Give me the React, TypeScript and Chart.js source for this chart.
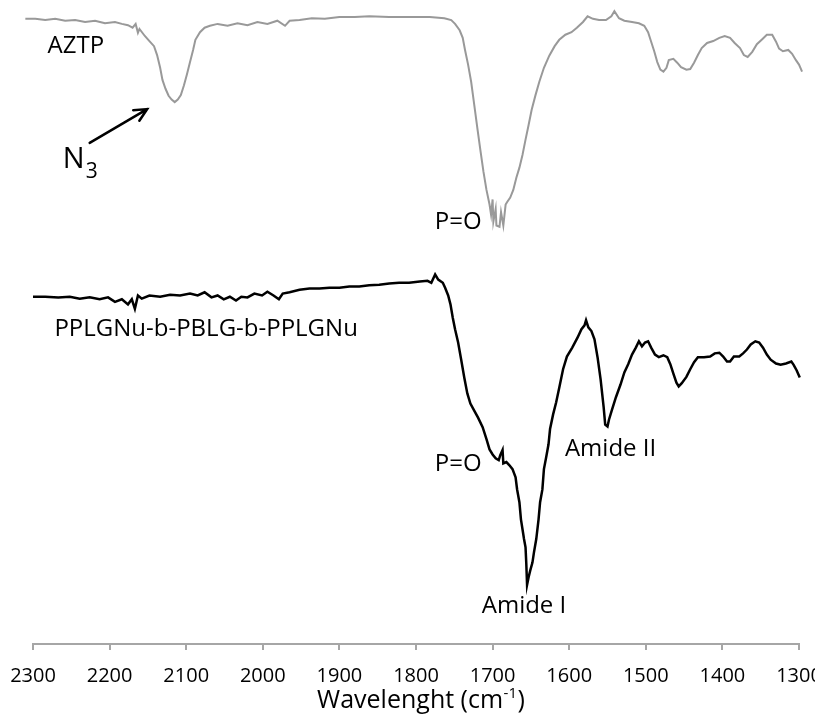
import React, { useEffect, useRef } from 'react';
import { Chart, registerables } from 'chart.js';

Chart.register(...registerables);

// AZTP spectrum (grey): wavenumber (cm-1) and signal (a.u., transmittance-like)
const AZTP_WAVENUMBER = [
  2310, 2297, 2284, 2271, 2258, 2245, 2232, 2219, 2206, 2193,
  2184, 2176, 2170, 2166, 2163, 2161, 2154, 2148, 2142, 2138,
  2134, 2131, 2127, 2123, 2119, 2115, 2111, 2107, 2103, 2099,
  2095, 2091, 2088, 2082, 2076, 2069, 2059, 2046, 2033, 2020,
  2007, 1994, 1981, 1971, 1965, 1952, 1936, 1919, 1900, 1880,
  1861, 1835, 1809, 1782, 1763, 1754, 1749, 1743, 1739, 1736,
  1732, 1728, 1724, 1720, 1716, 1712, 1708, 1704, 1702, 1700,
  1699, 1696, 1695, 1691, 1689, 1686, 1683, 1681, 1677, 1673,
  1669, 1665, 1661, 1657, 1653, 1649, 1644, 1639, 1633, 1626,
  1619, 1613, 1605, 1597, 1590, 1582, 1576, 1569, 1561, 1552,
  1545, 1541, 1535, 1528, 1518, 1509, 1502, 1497, 1493, 1489,
  1485, 1481, 1477, 1473, 1470, 1464, 1459, 1454, 1447, 1442,
  1437, 1432, 1427, 1420, 1412, 1404, 1397, 1390, 1384, 1377,
  1372, 1367, 1361, 1355, 1348, 1342, 1335, 1330, 1326, 1321,
  1314, 1309, 1304, 1300, 1296,
];
const AZTP_SIGNAL = [
  98.3, 98.3, 98.1, 98.3, 98.0, 98.1, 97.8, 98.0, 97.6, 97.8,
  97.5, 97.3, 96.9, 97.5, 96.1, 96.7, 95.6, 94.8, 94.0, 92.6,
  90.6, 88.7, 87.3, 86.2, 85.6, 85.2, 85.6, 86.3, 87.8, 89.6,
  91.5, 93.4, 95.0, 96.2, 96.9, 97.2, 97.5, 97.2, 97.6, 97.3,
  97.8, 97.5, 98.0, 97.2, 98.0, 98.1, 98.4, 98.3, 98.6, 98.6,
  98.7, 98.6, 98.6, 98.6, 98.4, 98.1, 97.5, 96.5, 95.3, 93.4,
  91.1, 88.4, 84.8, 81.2, 77.7, 74.3, 71.4, 69.1, 67.5, 69.9,
  66.4, 68.4, 65.8, 65.6, 67.9, 65.8, 69.1, 69.5, 70.2, 71.4,
  73.3, 74.9, 76.9, 79.3, 81.6, 84.0, 86.3, 88.4, 90.6, 92.5,
  94.0, 95.0, 95.8, 96.2, 96.9, 97.8, 98.7, 98.3, 98.1, 98.1,
  98.7, 99.5, 98.4, 98.0, 97.8, 97.6, 97.2, 96.2, 94.7, 93.2,
  91.5, 90.3, 90.0, 90.6, 91.8, 92.0, 91.4, 90.7, 90.3, 90.4,
  91.4, 92.6, 93.7, 94.5, 94.8, 95.3, 95.6, 95.3, 94.5, 93.7,
  92.6, 92.3, 93.1, 94.3, 95.1, 95.8, 95.8, 94.7, 93.6, 93.2,
  93.4, 92.8, 91.8, 91.1, 90.0,
];

// PPLGNu-b-PBLG-b-PPLGNu spectrum (black)
const COPOLYMER_WAVENUMBER = [
  2300, 2284, 2267, 2252, 2239, 2226, 2213, 2202, 2193, 2184,
  2176, 2171, 2167, 2163, 2158, 2148, 2134, 2121, 2108, 2095,
  2085, 2076, 2067, 2059, 2051, 2043, 2035, 2028, 2020, 2011,
  2001, 1994, 1986, 1979, 1974, 1965, 1952, 1939, 1926, 1913,
  1900, 1887, 1874, 1861, 1848, 1835, 1822, 1809, 1795, 1785,
  1780, 1775, 1771, 1765, 1762, 1758, 1755, 1752, 1749, 1745,
  1741, 1737, 1733, 1729, 1724, 1719, 1713, 1708, 1704, 1700,
  1696, 1692, 1690, 1687, 1686, 1682, 1678, 1674, 1670, 1668,
  1665, 1663, 1660, 1659, 1657, 1656, 1655, 1653, 1651, 1648,
  1646, 1643, 1640, 1638, 1635, 1633, 1630, 1627, 1625, 1621,
  1617, 1613, 1608, 1603, 1596, 1589, 1584, 1580, 1578, 1575,
  1571, 1567, 1563, 1559, 1555, 1553, 1550, 1548, 1544, 1539,
  1533, 1528, 1523, 1518, 1513, 1509, 1505, 1501, 1497, 1493,
  1488, 1483, 1477, 1472, 1468, 1464, 1460, 1457, 1453, 1447,
  1442, 1437, 1432, 1424, 1416, 1410, 1404, 1399, 1394, 1390,
  1385, 1378, 1373, 1368, 1363, 1357, 1352, 1347, 1342, 1337,
  1330, 1324, 1317, 1310, 1307, 1303, 1299,
];
const COPOLYMER_SIGNAL = [
  54.6, 54.6, 54.5, 54.6, 54.3, 54.5, 54.2, 54.5, 53.8, 54.2,
  53.4, 54.2, 52.7, 54.8, 54.3, 54.8, 54.6, 54.9, 54.8, 55.1,
  54.8, 55.3, 54.5, 54.8, 54.2, 54.6, 54.0, 54.6, 54.5, 55.1,
  54.8, 55.4, 54.8, 54.2, 55.1, 55.3, 55.7, 55.9, 55.9, 56.0,
  56.0, 56.2, 56.2, 56.4, 56.5, 56.7, 56.8, 56.8, 57.0, 57.1,
  56.8, 58.1, 57.3, 56.8, 56.0, 54.8, 53.4, 51.3, 49.5, 47.4,
  44.7, 41.9, 39.4, 37.8, 36.7, 35.6, 34.1, 32.2, 30.6, 29.8,
  29.2, 28.9, 29.7, 30.5, 28.4, 28.6, 28.1, 27.5, 26.2, 24.3,
  22.3, 19.6, 17.3, 16.5, 15.2, 12.6, 9.3, 10.5, 11.5, 12.8,
  14.4, 16.5, 19.6, 22.3, 24.3, 27.5, 29.4, 31.4, 33.8, 36.1,
  38.0, 40.3, 43.2, 45.2, 46.6, 48.2, 49.5, 50.1, 50.9, 49.8,
  49.2, 47.9, 45.1, 41.6, 37.2, 34.5, 34.2, 35.3, 36.9, 38.8,
  40.8, 42.7, 44.0, 45.5, 46.6, 47.6, 46.8, 47.4, 47.6, 46.6,
  45.5, 45.1, 45.4, 45.1, 44.0, 42.5, 41.1, 40.5, 41.0, 42.0,
  43.2, 44.3, 45.1, 45.1, 45.2, 45.7, 45.8, 45.2, 44.4, 44.4,
  45.2, 45.2, 45.7, 46.3, 47.1, 47.6, 47.4, 46.6, 45.5, 44.7,
  44.1, 43.9, 44.1, 44.4, 43.9, 43.0, 41.9,
];

const X_TICKS = [2300, 2200, 2100, 2000, 1900, 1800, 1700, 1600, 1500, 1400, 1300];
const X_TITLE_MAIN = 'Wavelenght (cm';
const X_TITLE_SUP = '-1';
const X_TITLE_END = ')';

// Peak labels: text, wavenumber (centre), signal (baseline)
const PEAK_LABEL_TEXT = ['AZTP', 'P=O', 'PPLGNu-b-PBLG-b-PPLGNu', 'P=O', 'Amide II', 'Amide I'];
const PEAK_LABEL_WN = [2244, 1745, 2074, 1745, 1546, 1659];
const PEAK_LABEL_SIGNAL = [92.9, 65.3, 48.5, 27.2, 29.5, 4.9];

// N3 label and arrow (data coordinates)
const N3_LABEL = { wn: 2261, signal: 74.9 };
const N3_ARROW = { fromWn: 2226, fromSignal: 78.8, toWn: 2151, toSignal: 84.1 };

const FONT = '"Open Sans", "Noto Sans", sans-serif';

const annotationPlugin = {
  id: 'peakAnnotations',
  afterDatasetsDraw(chart: any) {
    const { ctx } = chart;
    const xs = chart.scales.x;
    const ys = chart.scales.y;
    ctx.save();
    ctx.fillStyle = '#000';
    ctx.textBaseline = 'alphabetic';
    ctx.textAlign = 'center';
    ctx.font = `24px ${FONT}`;
    PEAK_LABEL_TEXT.forEach((t, i) => {
      ctx.fillText(t, xs.getPixelForValue(PEAK_LABEL_WN[i]), ys.getPixelForValue(PEAK_LABEL_SIGNAL[i]));
    });

    // N3
    const nx = xs.getPixelForValue(N3_LABEL.wn);
    const ny = ys.getPixelForValue(N3_LABEL.signal);
    ctx.textAlign = 'left';
    ctx.font = `29px ${FONT}`;
    ctx.fillText('N', nx, ny);
    const nw = ctx.measureText('N').width;
    ctx.font = `21px ${FONT}`;
    ctx.fillText('3', nx + nw + 1, ny + 10);

    // arrow
    const x1 = xs.getPixelForValue(N3_ARROW.fromWn);
    const y1 = ys.getPixelForValue(N3_ARROW.fromSignal);
    const x2 = xs.getPixelForValue(N3_ARROW.toWn);
    const y2 = ys.getPixelForValue(N3_ARROW.toSignal);
    ctx.strokeStyle = '#000';
    ctx.lineWidth = 2.5;
    ctx.lineCap = 'round';
    ctx.beginPath();
    ctx.moveTo(x1, y1);
    ctx.lineTo(x2, y2);
    const ang = Math.atan2(y2 - y1, x2 - x1);
    const hl = 14;
    ctx.moveTo(x2 - hl * Math.cos(ang - 0.45), y2 - hl * Math.sin(ang - 0.45));
    ctx.lineTo(x2, y2);
    ctx.lineTo(x2 - hl * Math.cos(ang + 0.45), y2 - hl * Math.sin(ang + 0.45));
    ctx.stroke();
    ctx.restore();
  },
};

// Tick labels and axis title, positioned from the x scale
const axisTextPlugin = {
  id: 'axisText',
  afterDraw(chart: any) {
    const { ctx } = chart;
    const xs = chart.scales.x;
    ctx.save();
    ctx.fillStyle = '#000';
    ctx.textBaseline = 'alphabetic';
    ctx.textAlign = 'center';
    ctx.font = `20px ${FONT}`;
    const tickBase = xs.top + 38;
    X_TICKS.forEach((v) => ctx.fillText(String(v), xs.getPixelForValue(v), tickBase));

    const titleBase = xs.top + 64;
    ctx.textAlign = 'left';
    ctx.font = `25px ${FONT}`;
    const w1 = ctx.measureText(X_TITLE_MAIN).width;
    const w3 = ctx.measureText(X_TITLE_END).width;
    ctx.font = `15px ${FONT}`;
    const w2 = ctx.measureText(X_TITLE_SUP).width;
    const cx = (xs.left + xs.right) / 2 + 5;
    let x = cx - (w1 + w2 + w3 + 1) / 2;
    ctx.font = `25px ${FONT}`;
    ctx.fillText(X_TITLE_MAIN, x, titleBase);
    x += w1 + 0.5;
    ctx.font = `15px ${FONT}`;
    ctx.fillText(X_TITLE_SUP, x, titleBase - 10);
    x += w2 + 0.5;
    ctx.font = `25px ${FONT}`;
    ctx.fillText(X_TITLE_END, x, titleBase);
    ctx.restore();
  },
};

export default function App() {
  const canvasRef = useRef<HTMLCanvasElement | null>(null);

  useEffect(() => {
    const canvas = canvasRef.current;
    if (!canvas) return;
    const aztp = AZTP_WAVENUMBER.map((w, i) => ({ x: w, y: AZTP_SIGNAL[i] }));
    const copo = COPOLYMER_WAVENUMBER.map((w, i) => ({ x: w, y: COPOLYMER_SIGNAL[i] }));
    const chart = new Chart(canvas, {
      type: 'line',
      data: {
        datasets: [
          {
            label: 'AZTP',
            data: aztp,
            borderColor: '#999999',
            borderWidth: 2,
            pointRadius: 0,
            tension: 0,
            clip: false as any,
          },
          {
            label: 'PPLGNu-b-PBLG-b-PPLGNu',
            data: copo,
            borderColor: '#000000',
            borderWidth: 2.5,
            pointRadius: 0,
            tension: 0,
            clip: false as any,
          },
        ],
      },
      options: {
        animation: false,
        responsive: false,
        devicePixelRatio: 1,
        layout: { padding: { left: 33, right: 51, top: 8, bottom: 65 } },
        plugins: {
          legend: { display: false },
          tooltip: { enabled: false },
          title: { display: false },
        },
        scales: {
          x: {
            type: 'linear',
            reverse: true,
            min: 1300,
            max: 2300,
            afterBuildTicks: (scale: any) => {
              scale.ticks = X_TICKS.map((v) => ({ value: v }));
            },
            ticks: { display: false, autoSkip: false, maxRotation: 0 },
            grid: {
              display: true,
              drawOnChartArea: false,
              drawTicks: true,
              tickLength: 6,
              color: '#a6a6a6',
              lineWidth: 2,
            },
            border: { display: true, color: '#a6a6a6', width: 2 },
            title: { display: false },
          },
          y: {
            type: 'linear',
            display: false,
            min: 0,
            max: 100,
          },
        },
      },
      plugins: [annotationPlugin, axisTextPlugin],
    });
    return () => chart.destroy();
  }, []);

  return (
    <div
      style={{
        position: 'fixed',
        left: 0,
        top: 0,
        width: 815,
        height: 715,
        overflow: 'hidden',
        background: '#fff',
      }}
    >
      <canvas ref={canvasRef} width={850} height={715} style={{ width: 850, height: 715, display: 'block' }} />
    </div>
  );
}
